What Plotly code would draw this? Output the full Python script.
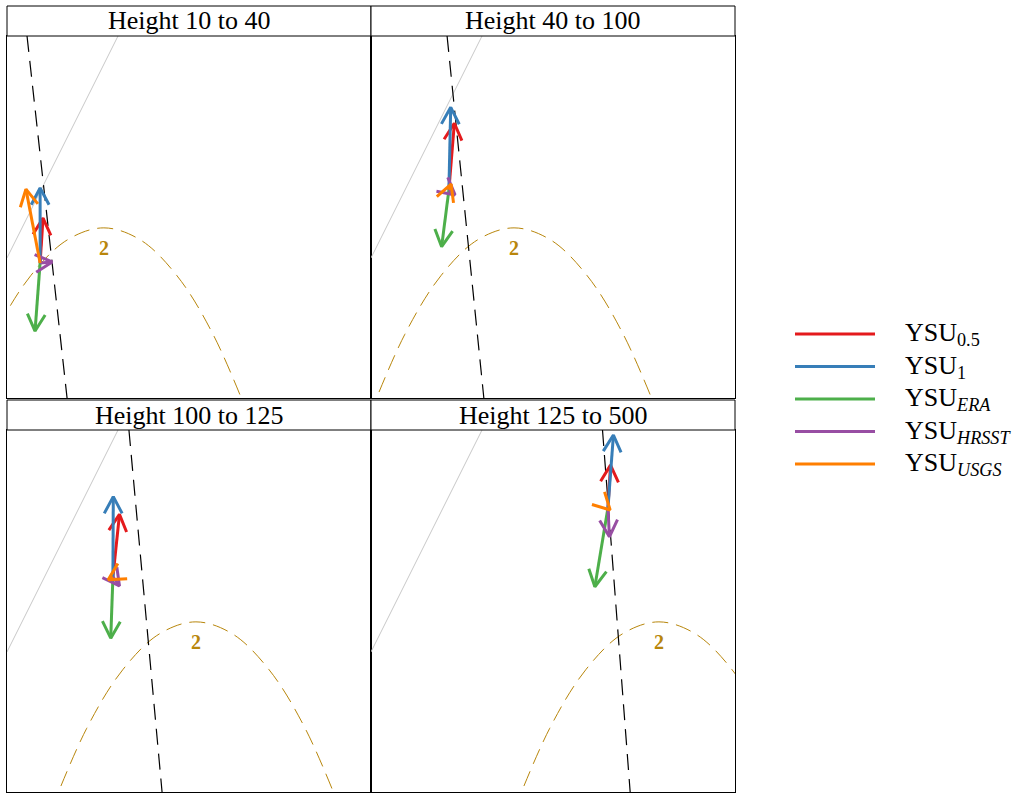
import math
import plotly.graph_objects as go

# ---------------- data ----------------
panel_titles = ["Height 10 to 40", "Height 40 to 100", "Height 100 to 125", "Height 125 to 500"]

series_names = ["YSU<sub>0.5</sub>", "YSU<sub>1</sub>", "YSU<sub><i>ERA</i></sub>",
                "YSU<sub><i>HRSST</i></sub>", "YSU<sub><i>USGS</i></sub>"]
series_colors = ["#e41a1c", "#377eb8", "#4daf4a", "#984ea3", "#ff7f00"]

# arrow origin per panel
origin_x = [0.91, 2.14, 2.91, 6.51]
origin_y = [3.73, 5.75, 5.94, 7.85]

# arrow tips per series per panel
tip_x = {
    "YSU<sub>0.5</sub>": [0.99, 2.29, 3.09, 6.58],
    "YSU<sub>1</sub>": [0.91, 2.19, 2.92, 6.66],
    "YSU<sub><i>ERA</i></sub>": [0.77, 1.94, 2.85, 6.15],
    "YSU<sub><i>HRSST</i></sub>": [1.24, 2.31, 3.09, 6.55],
    "YSU<sub><i>USGS</i></sub>": [0.52, 2.20, 2.78, 6.57],
}
tip_y = {
    "YSU<sub>0.5</sub>": [4.97, 7.59, 7.67, 9.03],
    "YSU<sub>1</sub>": [5.80, 8.03, 8.16, 9.86],
    "YSU<sub><i>ERA</i></sub>": [1.85, 4.18, 4.25, 5.67],
    "YSU<sub><i>HRSST</i></sub>": [3.76, 5.61, 5.69, 7.05],
    "YSU<sub><i>USGS</i></sub>": [5.77, 5.91, 5.86, 7.79],
}

# dashed black reference line: x at top (y=10) and bottom (y=0)
dash_y = [10.0, 0.0]
dash_x = [[0.55, 1.65], [2.09, 3.10], [3.35, 4.26], [6.36, 7.12]]

# light grey line (same in all panels)
grey_x = [0.0, 3.05]
grey_y = [3.87, 10.0]

# contour "2" curve: offsets from its centre and heights
contour_dx = [-4.2, -3.0, -2.0, -1.0, 0.0, 1.0, 2.0, 3.0, 4.2]
contour_y = [-1.07, 1.76, 3.39, 4.37, 4.70, 4.37, 3.39, 1.76, -1.07]
contour_cx = [2.66, 3.93, 5.19, 7.91]
contour_label = "2"
contour_label_y = 4.14

x_range = [0, 10]
y_range = [0, 10]

# ---------------- layout geometry ----------------
W, H = 1035, 793
col_px = [(7, 371), (371, 735)]
row_px = [(36, 398), (430, 792)]   # plot area top/bottom in px
strip_h = 30

fig = go.Figure()

pw = col_px[0][1] - col_px[0][0]
ph = row_px[0][1] - row_px[0][0]
sx = pw / (x_range[1] - x_range[0])
sy = ph / (y_range[1] - y_range[0])
head_len = 19.0
head_ang = math.radians(28)

for p in range(4):
    r, c = divmod(p, 2)
    ax_id = "" if p == 0 else str(p + 1)
    xa, ya = "x" + ax_id, "y" + ax_id
    x0p, x1p = col_px[c]
    t0p, b0p = row_px[r]
    fig.layout["xaxis" + ax_id] = dict(
        domain=[x0p / W, x1p / W], range=x_range, anchor=ya,
        showgrid=False, zeroline=False, showticklabels=False, ticks="",
        showline=True, mirror=True, linecolor="black", linewidth=1)
    fig.layout["yaxis" + ax_id] = dict(
        domain=[1 - b0p / H, 1 - t0p / H], range=y_range, anchor=xa,
        showgrid=False, zeroline=False, showticklabels=False, ticks="",
        showline=True, mirror=True, linecolor="black", linewidth=1)

    # grey line
    fig.add_trace(go.Scatter(x=grey_x, y=grey_y, mode="lines", xaxis=xa, yaxis=ya,
                             line=dict(color="#c8c8c8", width=1), showlegend=False,
                             hoverinfo="skip"))
    # contour curve
    fig.add_trace(go.Scatter(x=[contour_cx[p] + d for d in contour_dx], y=contour_y,
                             mode="lines", xaxis=xa, yaxis=ya,
                             line=dict(color="#b8860b", width=1, dash="16px,8px", shape="spline"),
                             showlegend=False, hoverinfo="skip"))
    # dashed black line
    fig.add_trace(go.Scatter(x=dash_x[p], y=dash_y, mode="lines", xaxis=xa, yaxis=ya,
                             line=dict(color="black", width=1.2, dash="16px,9px"),
                             showlegend=False, hoverinfo="skip"))
    # contour label
    fig.add_annotation(xref=xa, yref=ya, x=contour_cx[p], y=contour_label_y,
                       text="<b>" + contour_label + "</b>", showarrow=False,
                       font=dict(family="Liberation Serif", size=20, color="#b8860b"),
                       xanchor="center", yanchor="middle")
    # arrows
    for name, col in zip(series_names, series_colors):
        ox, oy = origin_x[p], origin_y[p]
        tx, ty = tip_x[name][p], tip_y[name][p]
        dxp, dyp = (tx - ox) * sx, (ty - oy) * sy
        n = math.hypot(dxp, dyp) or 1.0
        ux, uy = dxp / n, dyp / n
        wx, wy = [], []
        for s in (1, -1):
            ca, sa = math.cos(s * head_ang), math.sin(s * head_ang)
            rx, ry = ux * ca - uy * sa, ux * sa + uy * ca
            wx.append(tx - head_len * rx / sx)
            wy.append(ty - head_len * ry / sy)
        xs = [ox, tx, None, wx[0], tx, wx[1]]
        ys = [oy, ty, None, wy[0], ty, wy[1]]
        fig.add_trace(go.Scatter(x=xs, y=ys, mode="lines", xaxis=xa, yaxis=ya,
                                 line=dict(color=col, width=3), name=name,
                                 showlegend=False, hoverinfo="skip"))

    # title strip
    fig.add_shape(type="rect", xref="paper", yref="paper",
                  x0=x0p / W, x1=x1p / W, y0=1 - t0p / H, y1=1 - (t0p - strip_h) / H,
                  line=dict(color="black", width=1), fillcolor="white")
    fig.add_annotation(xref="paper", yref="paper", x=(x0p + x1p) / 2 / W,
                       y=1 - (t0p - strip_h / 2) / H, text=panel_titles[p], showarrow=False,
                       font=dict(family="Liberation Serif", size=26, color="black"),
                       xanchor="center", yanchor="middle")

# manual legend
leg_y0 = 334
leg_dy = 32.5
for i, (name, col) in enumerate(zip(series_names, series_colors)):
    yy = 1 - (leg_y0 + i * leg_dy) / H
    fig.add_shape(type="line", xref="paper", yref="paper", x0=795 / W, x1=875 / W,
                  y0=yy, y1=yy, line=dict(color=col, width=3))
    fig.add_annotation(xref="paper", yref="paper", x=903 / W, y=yy, text=name,
                       showarrow=False, xanchor="left", yanchor="middle",
                       font=dict(family="Liberation Serif", size=26, color="black"))

fig.update_layout(width=W, height=H, margin=dict(l=0, r=0, t=0, b=0),
                  paper_bgcolor="white", plot_bgcolor="white", showlegend=False)

fig.write_html("out.html")
